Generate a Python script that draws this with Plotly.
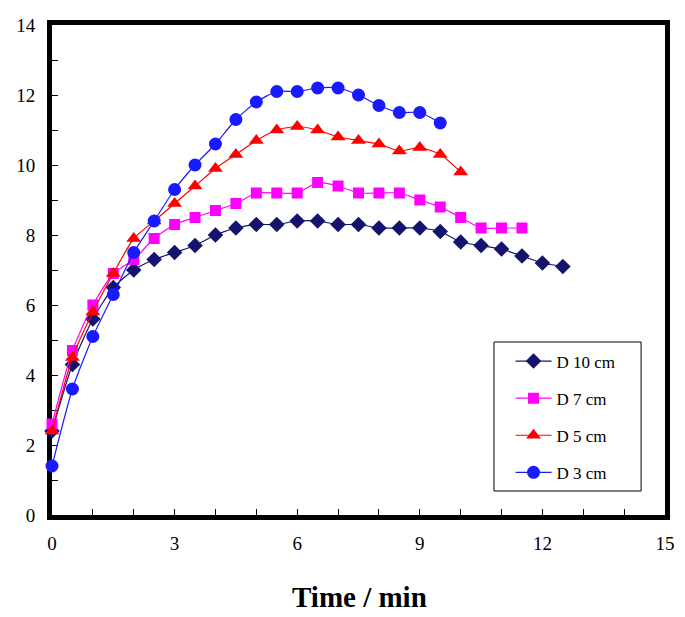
import plotly.graph_objects as go

time = [0, 0.5, 1, 1.5, 2, 2.5, 3, 3.5, 4, 4.5, 5, 5.5, 6, 6.5, 7, 7.5, 8, 8.5, 9, 9.5, 10, 10.5, 11, 11.5, 12, 12.5]

d10 = [2.4, 4.3, 5.6, 6.5, 7.0, 7.3, 7.5, 7.7, 8.0, 8.2, 8.3, 8.3, 8.4, 8.4, 8.3, 8.3, 8.2, 8.2, 8.2, 8.1, 7.8, 7.7, 7.6, 7.4, 7.2, 7.1]
d7 = [2.6, 4.7, 6.0, 6.9, 7.3, 7.9, 8.3, 8.5, 8.7, 8.9, 9.2, 9.2, 9.2, 9.5, 9.4, 9.2, 9.2, 9.2, 9.0, 8.8, 8.5, 8.2, 8.2, 8.2]
d5 = [2.4, 4.5, 5.8, 6.9, 7.9, 8.4, 8.9, 9.4, 9.9, 10.3, 10.7, 11.0, 11.1, 11.0, 10.8, 10.7, 10.6, 10.4, 10.5, 10.3, 9.8]
d3 = [1.4, 3.6, 5.1, 6.3, 7.5, 8.4, 9.3, 10.0, 10.6, 11.3, 11.8, 12.1, 12.1, 12.2, 12.2, 12.0, 11.7, 11.5, 11.5, 11.2]

names = ["D 10 cm", "D 7 cm", "D 5 cm", "D 3 cm"]
colors = ["#14146e", "#ff00ff", "#ff0000", "#1a1aff"]
symbols = ["diamond", "square", "triangle-up", "circle"]
sizes = [12, 11, 13, 13]
series = [d10, d7, d5, d3]
x_title = "Time / min"

fig = go.Figure()
for name, col, sym, sz, ys in zip(names, colors, symbols, sizes, series):
    fig.add_trace(go.Scatter(
        x=time[:len(ys)], y=ys, name=name, mode="lines+markers",
        line=dict(color=col, width=1.2, shape="spline", smoothing=0.6),
        marker=dict(symbol=sym, size=sz, color=col),
        cliponaxis=False, legendgroup=name,
    ))

font_family = "Liberation Serif, Times New Roman, serif"

# page body has an 8px margin, so the figure is sized/offset to compensate
fig.update_layout(
    width=669, height=609,
    margin=dict(l=44, r=12, t=17, b=102),
    paper_bgcolor="white", plot_bgcolor="white",
    font=dict(family=font_family, color="black", size=19),
    showlegend=True,
    legend=dict(
        x=0.748, y=0.350, xanchor="left", yanchor="top",
        borderwidth=0, bgcolor="rgba(0,0,0,0)",
        font=dict(family=font_family, size=17, color="black"),
        tracegroupgap=12, itemwidth=36,
    ),
    shapes=[dict(type="rect", xref="paper", yref="paper",
                 x0=0.721, x1=0.961, y0=0.049, y1=0.353,
                 line=dict(color="black", width=1), fillcolor="white",
                 layer="below")],
    annotations=[dict(text="<b>" + x_title + "</b>", xref="paper", yref="paper",
                      x=0.502, y=-0.167, xanchor="center", yanchor="middle",
                      showarrow=False, font=dict(size=29, family=font_family, color="black"))],
)

fig.update_xaxes(
    range=[0, 15], dtick=3, tick0=0, automargin=False,
    showline=True, linecolor="black", linewidth=5, mirror=True,
    ticks="inside", ticklen=6, tickwidth=1, tickcolor="black",
    minor=dict(dtick=1, ticks="inside", ticklen=6, tickwidth=1, tickcolor="black"),
    showgrid=False, zeroline=False, layer="below traces",
    ticklabelstandoff=7,
)
fig.update_yaxes(
    range=[0, 14], dtick=2, tick0=0, automargin=False,
    showline=True, linecolor="black", linewidth=5, mirror=True,
    ticks="inside", ticklen=6, tickwidth=1, tickcolor="black",
    minor=dict(dtick=1, ticks="inside", ticklen=6, tickwidth=1, tickcolor="black"),
    showgrid=False, zeroline=False, layer="below traces",
    ticklabelstandoff=8,
)

fig.write_html("out.html")
